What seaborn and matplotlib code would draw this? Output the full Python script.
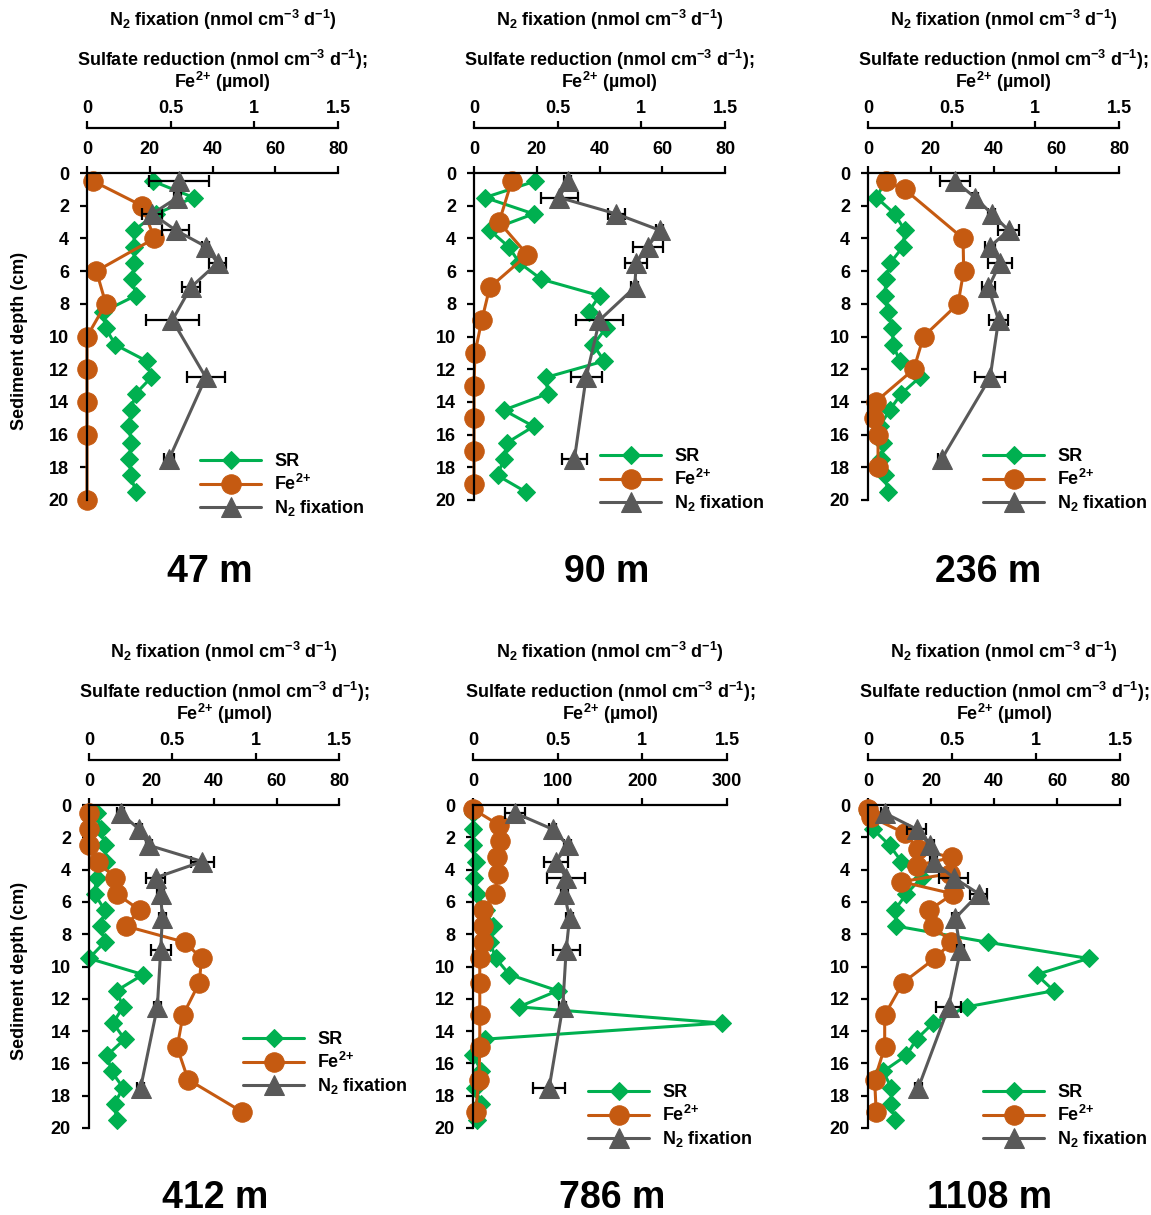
import matplotlib
matplotlib.use("Agg")
import matplotlib.pyplot as plt
import seaborn as sns

W, H = 1151, 1215

# ---- data ----
stations = ["47 m", "90 m", "236 m", "412 m", "786 m", "1108 m"]

sr_depth = [0.5, 1.5, 2.5, 3.5, 4.5, 5.5, 6.5, 7.5, 8.5, 9.5,
            10.5, 11.5, 12.5, 13.5, 14.5, 15.5, 16.5, 17.5, 18.5, 19.5]
n2_depth = [0.5, 1.5, 2.5, 3.5, 4.5, 5.5, 7, 9, 12.5, 17.5]

sr_47 = [21, 34, 22, 15, 15, 15, 14.5, 15.5, 5, 6, 9, 19, 20.5, 15.5, 14, 13.5, 14, 13.5, 14, 15.5]
fe_47_depth = [0.5, 2, 4, 6, 8, 10, 12, 14, 16, 20]
fe_47 = [2, 17.5, 21.5, 3, 6, 0, 0, 0, 0, 0]
n2_47 = [0.55, 0.54, 0.39, 0.53, 0.71, 0.78, 0.62, 0.51, 0.71, 0.49]
n2err_47 = [0.18, 0.02, 0.06, 0.08, 0.02, 0.05, 0.055, 0.16, 0.115, 0.03]

sr_90 = [19.5, 3.5, 19, 5, 11, 14.5, 21.5, 40, 36.5, 42, 38, 41.5, 23, 23.5, 9.5, 19, 10.5, 9.5, 7.5, 16.5]
fe_90_depth = [0.5, 3, 5, 7, 9, 11, 13, 15, 17, 19]
fe_90 = [12, 8, 17, 5, 2.5, 0.3, 0, 0, 0, 0]
n2_90 = [0.56, 0.51, 0.85, 1.11, 1.04, 0.97, 0.96, 0.75, 0.67, 0.60]
n2err_90 = [0.02, 0.11, 0.05, 0.02, 0.09, 0.065, 0.02, 0.14, 0.093, 0.075]

sr_236 = [5.5, 2.7, 8.5, 11.7, 11.2, 7.1, 5.8, 5.3, 6.4, 7.8, 8, 10.1, 16.5, 10.6, 6.9, 3.7, 4.8, 4.3, 5.3, 6.4]
fe_236_depth = [0.5, 1, 4, 6, 8, 10, 12, 14, 15, 16, 18]
fe_236 = [5.6, 11.7, 30.3, 30.5, 28.7, 17.7, 14.6, 2.4, 1.8, 3.2, 3.2]
n2_236 = [0.52, 0.64, 0.74, 0.84, 0.73, 0.79, 0.72, 0.78, 0.73, 0.44]
n2err_236 = [0.09, 0.02, 0.02, 0.065, 0.03, 0.07, 0.04, 0.055, 0.09, 0.02]

sr_412 = [2.4, 3.9, 5, 5.3, 2.4, 1.8, 5, 3.9, 5, 0, 17.3, 8.8, 10.9, 7.7, 11.4, 5.8, 7.2, 10.9, 8.2, 8.8]
fe_412_depth = [0.5, 1.5, 2.5, 3.5, 4.5, 5.5, 6.5, 7.5, 8.5, 9.5, 11, 13, 15, 17, 19]
fe_412 = [0, 0, 0, 2.9, 8.2, 8.8, 16.2, 11.8, 30.7, 36, 35.3, 30.1, 28.2, 31.7, 49]
n2_412 = [0.19, 0.30, 0.36, 0.68, 0.40, 0.43, 0.44, 0.43, 0.41, 0.31]
n2err_412 = [0.02, 0.02, 0.02, 0.07, 0.055, 0.02, 0.02, 0.06, 0.02, 0.02]

sr_786 = [0, 0, 0, 4, 1, 5, 15, 24, 20, 27, 43, 100, 54, 294, 14, 0, 10, 2, 10, 5]
fe_786_depth = [0.25, 1.25, 2.25, 3.25, 4.25, 5.5, 6.5, 7.5, 8.5, 9.5, 11, 13, 15, 17, 19]
fe_786 = [0, 31, 32, 28, 29, 26, 12, 12, 12, 8, 8, 8, 8, 7, 3]
n2_786 = [0.25, 0.47, 0.56, 0.49, 0.55, 0.54, 0.57, 0.55, 0.53, 0.45]
n2err_786 = [0.06, 0.02, 0.02, 0.07, 0.113, 0.02, 0.02, 0.08, 0.02, 0.094]

sr_1108 = [0, 1.6, 6.9, 10.6, 17, 12.2, 8.5, 9, 38, 70, 53.5, 59, 31.3, 20.7, 15.4, 12.2, 4.8, 7.4, 7.4, 8.5]
fe_1108_depth = [0.25, 0.75, 1.75, 2.75, 3.25, 3.75, 4.25, 4.75, 5.5, 6.5, 7.5, 8.5, 9.5, 11, 13, 15, 17, 19]
fe_1108 = [0, 1, 11.7, 16, 26.6, 15.4, 26, 10.6, 27, 19.5, 20.7, 26.5, 21.2, 11.1, 5.3, 5.3, 2.1, 2.6]
n2_1108 = [0.10, 0.29, 0.37, 0.39, 0.51, 0.66, 0.52, 0.55, 0.48, 0.30]
n2err_1108 = [0.02, 0.055, 0.02, 0.02, 0.085, 0.05, 0.02, 0.02, 0.075, 0.02]

sr_all = [sr_47, sr_90, sr_236, sr_412, sr_786, sr_1108]
fe_depth_all = [fe_47_depth, fe_90_depth, fe_236_depth, fe_412_depth, fe_786_depth, fe_1108_depth]
fe_all = [fe_47, fe_90, fe_236, fe_412, fe_786, fe_1108]
n2_all = [n2_47, n2_90, n2_236, n2_412, n2_786, n2_1108]
n2err_all = [n2err_47, n2err_90, n2err_236, n2err_412, n2err_786, n2err_1108]

sr_ticks = [[0, 20, 40, 60, 80]] * 4 + [[0, 100, 200, 300]] + [[0, 20, 40, 60, 80]]
n2_ticks = [0, 0.5, 1, 1.5]
n2_ticklabels = ["0", "0.5", "1", "1.5"]
depth_ticks = [0, 2, 4, 6, 8, 10, 12, 14, 16, 18, 20]

n2_label = "N$_2$ fixation (nmol cm$^{-3}$ d$^{-1}$)"
sr_label = "Sulfate reduction (nmol cm$^{-3}$ d$^{-1}$);"
fe_label = "Fe$^{2{+}}$ (µmol)"
legend_labels = ["SR", "Fe$^{2{+}}$", "N$_2$ fixation"]

# ---- layout (pixels) ----
# x of value 0, x of max value, y of depth 0, y of depth 20
boxes = [(87, 338, 173, 500), (474, 725, 173, 500), (868, 1119, 173, 500),
         (89, 339, 805, 1128), (473, 727, 805, 1128), (868, 1120, 805, 1128)]
title_pos = [(210, 572), (607, 572), (988, 572), (215, 1198), (612, 1198), (990, 1198)]
legend_pos = [(200, 453), (600, 448), (983, 448), (243, 1031), (588, 1084), (983, 1084)]

GREEN = "#00B050"
ORANGE = "#C55A11"
GREY = "#595959"

sns.set_style("ticks")
plt.rcParams["font.family"] = ["Liberation Sans", "DejaVu Sans"]
plt.rcParams["font.weight"] = "bold"
plt.rcParams["mathtext.default"] = "regular"
plt.rcParams["axes.linewidth"] = 1.6
for key in ["text.color", "axes.edgecolor", "xtick.color", "ytick.color", "axes.labelcolor"]:
    plt.rcParams[key] = "black"


def fx(x):
    return x / W


def fy(y):
    return 1 - y / H


fig = plt.figure(figsize=(W / 100, H / 100), dpi=100)

for i in range(6):
    x0, x1, yt, yb = boxes[i]
    ax = fig.add_axes([fx(x0), fy(yb), (x1 - x0) / W, (yb - yt) / H])
    ax2 = ax.twiny()

    sns.lineplot(x=sr_all[i], y=sr_depth, sort=False, estimator=None, ax=ax,
                 color=GREEN, lw=2.2, marker="D", ms=9, mec=GREEN, clip_on=False)
    h_sr = ax.lines[-1]
    sns.lineplot(x=fe_all[i], y=fe_depth_all[i], sort=False, estimator=None, ax=ax,
                 color=ORANGE, lw=2.2, marker="o", ms=14, mec=ORANGE, clip_on=False)
    h_fe = ax.lines[-1]

    ax2.errorbar(n2_all[i], n2_depth, xerr=n2err_all[i], fmt="none", ecolor="black",
                 elinewidth=1.6, capsize=4, capthick=1.6, clip_on=False, zorder=2)
    sns.lineplot(x=n2_all[i], y=n2_depth, sort=False, estimator=None, ax=ax2,
                 color=GREY, lw=2.2, marker="^", ms=14, mec=GREY, clip_on=False, zorder=3)
    h_n2 = ax2.lines[-1]

    ax.set_xlim(0, sr_ticks[i][-1])
    ax.set_ylim(20, 0)
    ax2.set_xlim(0, 1.5)
    ax.set_xticks(sr_ticks[i])
    ax.set_yticks(depth_ticks)
    ax2.set_xticks(n2_ticks)
    ax2.set_xticklabels(n2_ticklabels)
    ax.set_xlabel("")
    ax.set_ylabel("")
    ax2.set_xlabel("")
    ax2.set_ylabel("")

    ax.xaxis.tick_top()
    ax.tick_params(axis="x", direction="out", length=5, width=1.6, pad=6, labelsize=13)
    ax.tick_params(axis="y", direction="out", length=5, width=1.6, pad=8, labelsize=13)
    ax2.tick_params(axis="x", direction="out", length=5, width=1.6, pad=3, labelsize=13)
    ax2.tick_params(axis="y", left=False, right=False, labelleft=False, labelright=False)

    for s in ["right", "bottom"]:
        ax.spines[s].set_visible(False)
    for s in ["right", "bottom", "left"]:
        ax2.spines[s].set_visible(False)
    ax2.spines["top"].set_position(("outward", 45 * 0.72))

    cx = (x0 + x1) / 2 + 10
    fig.text(fx(cx), fy(yt - 153), n2_label, ha="center", va="center", fontsize=13)
    fig.text(fx(cx), fy(yt - 113), sr_label, ha="center", va="center", fontsize=13)
    fig.text(fx(cx), fy(yt - 91), fe_label, ha="center", va="center", fontsize=13)

    tx, ty = title_pos[i]
    fig.text(fx(tx), fy(ty), stations[i], ha="center", va="center", fontsize=27)

    lx, ly = legend_pos[i]
    fig.legend([h_sr, h_fe, h_n2], legend_labels,
               loc="upper left", bbox_to_anchor=(fx(lx), fy(ly)), frameon=False,
               fontsize=13, handlelength=3.4, handletextpad=0.7, labelspacing=0.22,
               borderpad=0, borderaxespad=0)

    if i % 3 == 0:
        fig.text(fx(20), fy((yt + yb) / 2 + 4), "Sediment depth (cm)", rotation=90,
                 ha="center", va="center", fontsize=13)

fig.savefig("out.png", dpi=100)
